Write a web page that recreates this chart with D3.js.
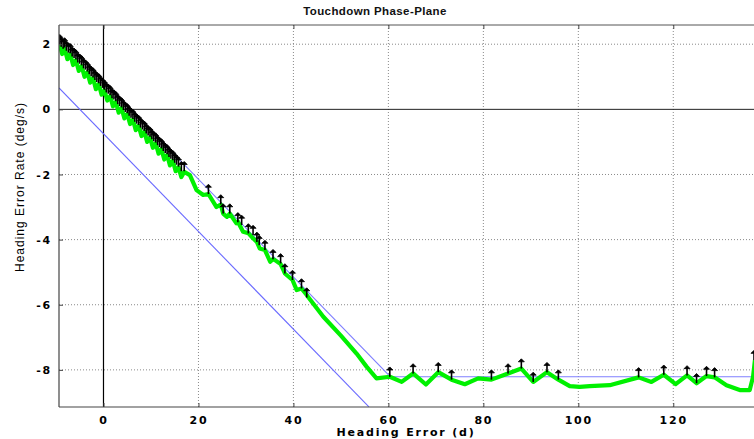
<!DOCTYPE html>
<html><head><meta charset="utf-8">
<script src="https://cdn.jsdelivr.net/npm/d3@7/dist/d3.min.js"></script>
<style>
html,body{margin:0;padding:0;background:#fff;}
svg{display:block;}
</style></head>
<body>
<script>
// ---- data ----
const title = "Touchdown Phase-Plane";
const xLabel = "Heading Error (d)";
const yLabel = "Heading Error Rate (deg/s)";
const xDomain = [-9.37, 137.0];
const yDomain = [-9.14, 2.59];
const xTicks = [0, 20, 40, 60, 80, 100, 120];
const yTicks = [2, 0, -2, -4, -6, -8];

// switching lines (blue)
const lowerLine = [[-9.37, 0.656], [55.9, -9.135]];
const upperLine = [[-9.37, 2.26], [60.4, -8.21], [137.0, -8.21]];

// trajectory (green)
const trajX = [-9.2,-8.7,-8.2,-7.6,-7.0,-6.4,-5.8,-5.2,-4.6,-4.0,-3.4,-2.8,-2.2,-1.6,-1.0,-0.4,0.2,0.8,1.4,2.0,2.6,3.2,3.8,4.4,5.0,5.6,6.2,6.8,7.4,8.0,8.6,9.2,9.8,10.4,11.0,11.6,12.2,12.8,13.4,14.0,14.6,15.2,15.8,16.4,17.0,18.2,19.6,21.0,22.1,23.8,24.7,25.2,26.0,26.6,28.0,28.3,29.4,30.5,31.5,32.3,32.9,34.0,35.1,35.7,36.1,37.3,37.9,38.2,39.8,40.7,41.7,42.8,43.1,46.3,50.0,53.3,55.4,57.5,60.3,62.8,65.2,67.9,70.5,73.3,76.1,78.9,81.7,85.2,88.0,90.5,93.4,95.8,98.2,100.3,102.4,106.6,112.7,115.4,118.0,120.5,122.9,124.9,127.0,128.7,131.2,134.0,136.1,136.8,137.2];
const trajY = [1.98,1.7,1.88,1.54,1.7,1.36,1.51,1.18,1.33,1.0,1.14,0.82,0.96,0.62,0.78,0.45,0.58,0.27,0.41,0.09,0.23,-0.1,0.04,-0.28,-0.14,-0.45,-0.32,-0.64,-0.5,-0.82,-0.68,-1.0,-0.86,-1.18,-1.04,-1.36,-1.22,-1.54,-1.4,-1.72,-1.58,-1.9,-1.78,-2.08,-1.92,-2.02,-2.48,-2.63,-2.6,-3.0,-2.92,-3.2,-3.3,-3.2,-3.5,-3.45,-3.76,-3.8,-3.96,-4.07,-4.27,-4.32,-4.68,-4.6,-4.63,-4.75,-4.94,-5.04,-5.24,-5.55,-5.5,-5.7,-5.76,-6.37,-6.95,-7.5,-7.9,-8.26,-8.21,-8.37,-8.11,-8.45,-8.07,-8.3,-8.44,-8.26,-8.3,-8.11,-7.96,-8.37,-8.07,-8.3,-8.5,-8.52,-8.5,-8.47,-8.23,-8.37,-8.15,-8.44,-8.17,-8.41,-8.19,-8.23,-8.47,-8.62,-8.62,-8.21,-7.7];

// arrow (quiver) base points
const arrowX = [-9.2,-8.9,-8.5,-8.2,-7.8,-7.4,-7.0,-6.6,-6.2,-5.8,-5.4,-5.0,-4.6,-4.2,-3.8,-3.4,-3.0,-2.6,-2.2,-1.8,-1.4,-1.0,-0.6,-0.2,0.2,0.6,1.0,1.4,1.8,2.2,2.6,3.0,3.4,3.8,4.2,4.6,5.0,5.4,5.8,6.2,6.6,7.0,7.4,7.8,8.2,8.6,9.0,9.4,9.8,10.2,10.6,11.0,11.4,11.8,12.2,12.6,13.0,13.4,13.8,14.2,14.6,15.0,15.4,15.8,16.4,17.0,22.1,24.7,25.2,26.6,28.3,29.1,30.5,31.5,32.3,32.8,34.0,35.7,37.3,38.2,39.8,41.7,42.8,60.3,65.2,70.5,73.3,81.7,85.2,88.0,90.5,93.4,95.8,112.7,118.0,122.9,124.9,127.0,128.7,137.0];
const arrowY = [2.0,1.92,1.86,1.9,1.8,1.74,1.72,1.62,1.58,1.53,1.44,1.4,1.35,1.26,1.22,1.16,1.08,1.02,0.98,0.9,0.84,0.8,0.72,0.66,0.6,0.52,0.48,0.43,0.34,0.3,0.25,0.16,0.1,0.06,-0.02,-0.08,-0.12,-0.2,-0.26,-0.3,-0.38,-0.44,-0.48,-0.56,-0.62,-0.66,-0.74,-0.8,-0.84,-0.92,-0.98,-1.02,-1.1,-1.16,-1.2,-1.28,-1.34,-1.38,-1.46,-1.52,-1.56,-1.64,-1.7,-1.76,-1.9,-1.9,-2.6,-2.92,-3.2,-3.2,-3.47,-3.55,-3.81,-3.86,-4.07,-4.17,-4.32,-4.6,-4.73,-5.04,-5.24,-5.5,-5.78,-8.21,-8.11,-8.07,-8.3,-8.3,-8.11,-7.96,-8.37,-8.07,-8.3,-8.23,-8.15,-8.17,-8.41,-8.19,-8.23,-7.7];

// ---- drawing ----
const W = 754, H = 439;
const L = 59, R = 754, T = 25, B = 407;
const svg = d3.select("body").append("svg").attr("width", W).attr("height", H);

const x = d3.scaleLinear().domain(xDomain).range([L, R]);
const y = d3.scaleLinear().domain(yDomain).range([B, T]);

svg.append("defs").append("clipPath").attr("id", "clip")
  .append("rect").attr("x", L).attr("y", T).attr("width", R - L).attr("height", B - T);

// grid
const grid = svg.append("g");
grid.selectAll("line.gx").data(xTicks.filter(d => d !== 0)).enter().append("line")
  .attr("x1", d => x(d)).attr("x2", d => x(d)).attr("y1", T).attr("y2", B)
  .attr("stroke", "#8a8a8a").attr("stroke-width", 1).attr("stroke-dasharray", "1,2");
grid.selectAll("line.gy").data(yTicks.filter(d => d !== 0)).enter().append("line")
  .attr("x1", L).attr("x2", R).attr("y1", d => y(d)).attr("y2", d => y(d))
  .attr("stroke", "#8a8a8a").attr("stroke-width", 1).attr("stroke-dasharray", "1,2");

// zero lines
svg.append("line").attr("x1", L).attr("x2", R).attr("y1", y(0)).attr("y2", y(0))
  .attr("stroke", "#222").attr("stroke-width", 1);
svg.append("line").attr("x1", x(0)).attr("x2", x(0)).attr("y1", T).attr("y2", B)
  .attr("stroke", "#000").attr("stroke-width", 1.2);

const plot = svg.append("g").attr("clip-path", "url(#clip)");
const line = d3.line().x(d => x(d[0])).y(d => y(d[1]));

plot.append("path").attr("d", line(lowerLine)).attr("fill", "none")
  .attr("stroke", "#6a6aff").attr("stroke-width", 1.1);
plot.append("path").attr("d", line(upperLine)).attr("fill", "none")
  .attr("stroke", "#8080ff").attr("stroke-width", 1.1);

const traj = trajX.map((v, i) => [v, trajY[i]]);
plot.append("path").attr("d", line(traj)).attr("fill", "none")
  .attr("stroke", "#00f000").attr("stroke-width", 4.2).attr("stroke-linejoin", "round");

// arrows
const arrowLen = 0.3;
const arrows = arrowX.map((v, i) => [v, arrowY[i]]);
const ag = plot.append("g");
ag.selectAll("path.stem").data(arrows).enter().append("path")
  .attr("d", d => {
    const px = x(d[0]), yb = y(d[1]), yt = y(d[1] + arrowLen);
    return `M${px},${yb}L${px},${yt + 1}`;
  })
  .attr("fill", "none").attr("stroke", "#000").attr("stroke-width", 1.6);
ag.selectAll("path.head").data(arrows).enter().append("path")
  .attr("d", d => {
    const px = x(d[0]), yt = y(d[1] + arrowLen);
    return `M${px - 3},${yt + 3}L${px},${yt}L${px + 3},${yt + 3}Z`;
  })
  .attr("fill", "#000").attr("stroke", "#000").attr("stroke-width", 0.8);

// axes box
svg.append("line").attr("x1", L).attr("x2", L).attr("y1", T).attr("y2", B).attr("stroke", "#444").attr("stroke-width", 1.2);
svg.append("line").attr("x1", L).attr("x2", R).attr("y1", B).attr("y2", B).attr("stroke", "#444").attr("stroke-width", 1.2);
svg.append("line").attr("x1", L).attr("x2", R).attr("y1", T).attr("y2", T).attr("stroke", "#555").attr("stroke-width", 1);

// ticks via d3 axes (inward)
const xAxis = svg.append("g").attr("transform", `translate(0,${B})`)
  .call(d3.axisBottom(x).tickValues(xTicks).tickSize(-4).tickPadding(9).tickFormat(d3.format("d")));
const xAxisTop = svg.append("g").attr("transform", `translate(0,${T})`)
  .call(d3.axisTop(x).tickValues(xTicks).tickSize(-4).tickFormat(""));
const yAxis = svg.append("g").attr("transform", `translate(${L},0)`)
  .call(d3.axisLeft(y).tickValues(yTicks).tickSize(-4).tickPadding(7).tickFormat(d => d < 0 ? "-" + Math.abs(d) : String(d)));
[xAxis, xAxisTop, yAxis].forEach(g => {
  g.select(".domain").remove();
  g.selectAll(".tick line").attr("stroke", "#444");
});
xAxis.selectAll("text").attr("font-family", "DejaVu Sans, sans-serif").attr("font-size", 11)
  .attr("font-weight", "bold").attr("letter-spacing", 1.8).attr("fill", "#000");
yAxis.selectAll("text").attr("font-family", "DejaVu Sans, sans-serif").attr("font-size", 11)
  .attr("font-weight", "bold").attr("letter-spacing", 1.8).attr("fill", "#000");

// labels
svg.append("text").attr("x", 375).attr("y", 15).attr("text-anchor", "middle")
  .attr("font-family", "Liberation Sans, Arial, sans-serif").attr("font-size", 11.5)
  .attr("font-weight", "bold").attr("letter-spacing", 0.4).attr("fill", "#111").text(title);
svg.append("text").attr("x", 406).attr("y", 436).attr("text-anchor", "middle")
  .attr("font-family", "DejaVu Sans, sans-serif").attr("font-size", 11)
  .attr("font-weight", "bold").attr("letter-spacing", 1.8).text(xLabel);
svg.append("text").attr("transform", `translate(24,187) rotate(-90)`).attr("text-anchor", "middle")
  .attr("font-family", "Liberation Sans, Arial, sans-serif").attr("font-size", 12)
  .attr("letter-spacing", 1.0).text(yLabel);
</script>
</body></html>
